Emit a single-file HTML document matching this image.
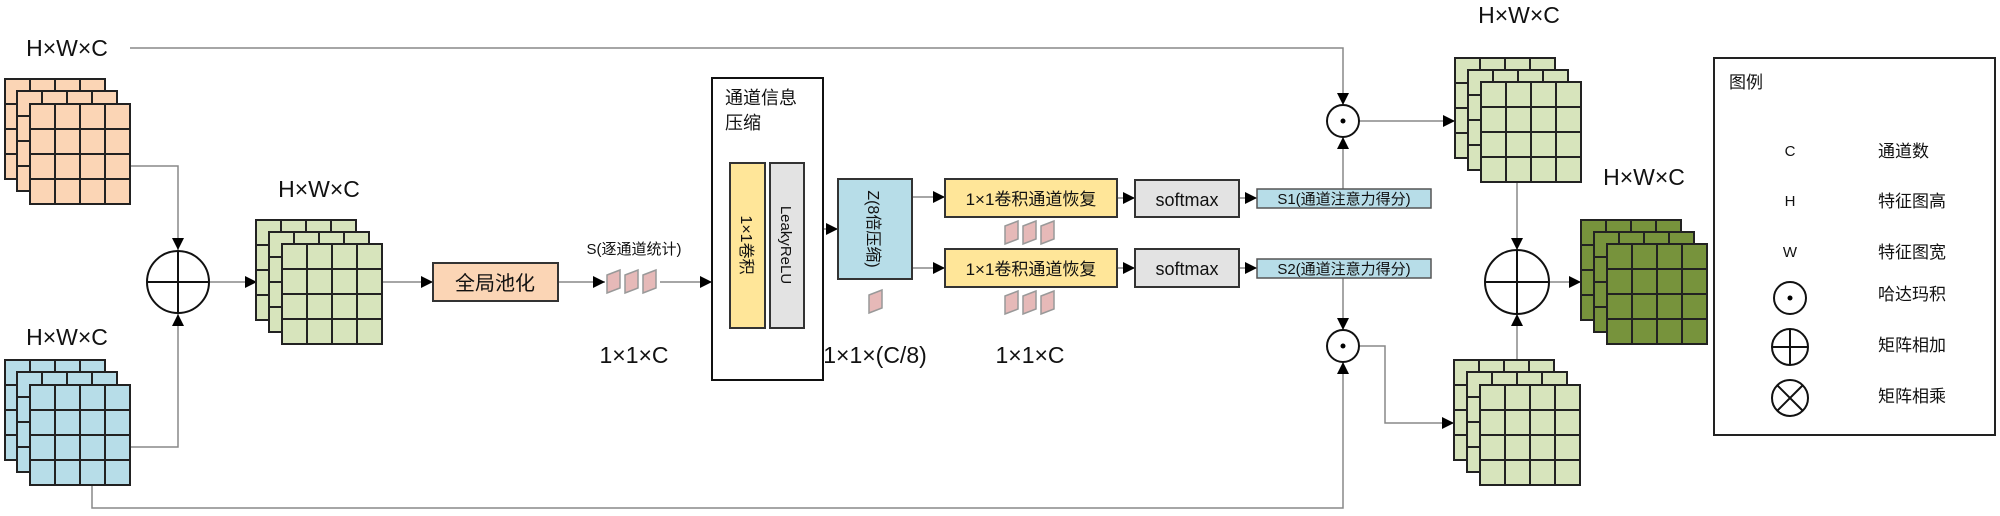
<!DOCTYPE html>
<html><head><meta charset="utf-8"><style>
html,body{margin:0;padding:0;background:#fff;width:2000px;height:516px;overflow:hidden}
text{font-family:"Liberation Sans","Noto Sans CJK SC",sans-serif;fill:#111}
</style></head><body>
<svg width="2000" height="516" viewBox="0 0 2000 516" xmlns="http://www.w3.org/2000/svg">
<defs>
<marker id="a" viewBox="0 0 10 10" refX="10" refY="5" markerWidth="12" markerHeight="12" markerUnits="userSpaceOnUse" orient="auto"><path d="M0 0L10 5L0 10z" fill="#000"/></marker>
<g id="L"><rect width="100" height="100" stroke="#222" stroke-width="2"/><path d="M25 0V100M50 0V100M75 0V100M0 25H100M0 50H100M0 75H100" stroke="#222" stroke-width="2" fill="none"/></g>
<g id="P"><polygon points="1,5 14,0 14,18 1,23" fill="#e6b9b8" stroke="#999" stroke-width="1.5"/></g>
<g id="P3"><use href="#P" x="0"/><use href="#P" x="18"/><use href="#P" x="36"/></g>
</defs>
<g fill="none" stroke="#888" stroke-width="1.5">
<path d="M130 48H1343V105" marker-end="url(#a)"/>
<path d="M130 166H178V250" marker-end="url(#a)"/>
<path d="M130 447H178V314" marker-end="url(#a)"/>
<path d="M92 484V508H1343V362" marker-end="url(#a)"/>
<path d="M209 282H257" marker-end="url(#a)"/>
<path d="M382 282H433" marker-end="url(#a)"/>
<path d="M558 282H605" marker-end="url(#a)"/>
<path d="M660 282H712" marker-end="url(#a)"/>
<path d="M823 229H838" marker-end="url(#a)"/>
<path d="M912 197H945" marker-end="url(#a)"/>
<path d="M912 268H945" marker-end="url(#a)"/>
<path d="M1117 198H1135" marker-end="url(#a)"/>
<path d="M1117 268H1135" marker-end="url(#a)"/>
<path d="M1239 198H1257" marker-end="url(#a)"/>
<path d="M1239 268H1257" marker-end="url(#a)"/>
<path d="M1343 189V137" marker-end="url(#a)"/>
<path d="M1343 278V330" marker-end="url(#a)"/>
<path d="M1359 121H1455" marker-end="url(#a)"/>
<path d="M1359 346H1385V423H1454" marker-end="url(#a)"/>
<path d="M1517 182V250" marker-end="url(#a)"/>
<path d="M1517 360V314" marker-end="url(#a)"/>
<path d="M1549 282H1581" marker-end="url(#a)"/>
</g>
<g fill="#fbd5b5"><use href="#L" x="5" y="79"/><use href="#L" x="17" y="91"/><use href="#L" x="30" y="104"/></g>
<g fill="#b7dde8"><use href="#L" x="5" y="360"/><use href="#L" x="17" y="372"/><use href="#L" x="30" y="385"/></g>
<g fill="#d7e4bc"><use href="#L" x="256" y="220"/><use href="#L" x="269" y="232"/><use href="#L" x="282" y="244"/></g>
<g fill="#d7e4bc"><use href="#L" x="1455" y="58"/><use href="#L" x="1468" y="70"/><use href="#L" x="1481" y="82"/></g>
<g fill="#d7e4bc"><use href="#L" x="1454" y="360"/><use href="#L" x="1467" y="372"/><use href="#L" x="1480" y="385"/></g>
<g fill="#77933c"><use href="#L" x="1581" y="220"/><use href="#L" x="1594" y="232"/><use href="#L" x="1607" y="244"/></g>
<g font-size="23" text-anchor="middle">
<text x="67" y="56">H×W×C</text>
<text x="67" y="345">H×W×C</text>
<text x="319" y="197">H×W×C</text>
<text x="1519" y="23">H×W×C</text>
<text x="1644" y="185">H×W×C</text>
<text x="634" y="363">1×1×C</text>
<text x="875" y="363">1×1×(C/8)</text>
<text x="1030" y="363">1×1×C</text>
</g>
<g fill="#fff" stroke="#111" stroke-width="2">
<circle cx="178" cy="282" r="31"/><path d="M147 282H209M178 251V313"/>
<circle cx="1517" cy="282" r="32"/><path d="M1485 282H1549M1517 250V314"/>
<circle cx="1343" cy="121" r="16"/><circle cx="1343" cy="346" r="16"/>
</g>
<circle cx="1343" cy="121" r="2.5" fill="#000"/><circle cx="1343" cy="346" r="2.5" fill="#000"/>
<rect x="433" y="263" width="125" height="38" fill="#fbd5b5" stroke="#333" stroke-width="2"/>
<text x="495" y="290" font-size="20" text-anchor="middle">全局池化</text>
<use href="#P3" x="606" y="270"/>
<text x="634" y="254" font-size="15" text-anchor="middle">S(逐通道统计)</text>
<rect x="712" y="78" width="111" height="302" fill="#fff" stroke="#111" stroke-width="2"/>
<text x="725" y="104" font-size="18">通道信息</text>
<text x="725" y="129" font-size="18">压缩</text>
<rect x="730" y="163" width="35" height="165" fill="#ffe699" stroke="#333" stroke-width="2"/>
<rect x="770" y="163" width="34" height="165" fill="#e3e3e3" stroke="#333" stroke-width="2"/>
<text transform="translate(741 245) rotate(90)" font-size="16" text-anchor="middle">1×1卷积</text>
<text transform="translate(781 245) rotate(90)" font-size="15" text-anchor="middle">LeakyReLU</text>
<rect x="838" y="179" width="74" height="100" fill="#b7dde8" stroke="#333" stroke-width="2"/>
<text transform="translate(868 229) rotate(90)" font-size="16" text-anchor="middle">Z(8倍压缩)</text>
<use href="#P" x="868" y="290"/>
<rect x="945" y="179" width="172" height="38" fill="#ffe699" stroke="#333" stroke-width="2"/>
<rect x="945" y="249" width="172" height="38" fill="#ffe699" stroke="#333" stroke-width="2"/>
<text x="1031" y="205" font-size="17" text-anchor="middle">1×1卷积通道恢复</text>
<text x="1031" y="275" font-size="17" text-anchor="middle">1×1卷积通道恢复</text>
<use href="#P3" x="1004" y="221"/><use href="#P3" x="1004" y="291"/>
<rect x="1135" y="180" width="104" height="37" fill="#e3e3e3" stroke="#333" stroke-width="2"/>
<rect x="1135" y="249" width="104" height="38" fill="#e3e3e3" stroke="#333" stroke-width="2"/>
<text x="1187" y="206" font-size="18" text-anchor="middle">softmax</text>
<text x="1187" y="275" font-size="18" text-anchor="middle">softmax</text>
<rect x="1257" y="189" width="174" height="19" fill="#b7dde8" stroke="#555" stroke-width="1.5"/>
<rect x="1257" y="259" width="174" height="19" fill="#b7dde8" stroke="#555" stroke-width="1.5"/>
<text x="1344" y="204" font-size="15" text-anchor="middle">S1(通道注意力得分)</text>
<text x="1344" y="274" font-size="15" text-anchor="middle">S2(通道注意力得分)</text>
<rect x="1714" y="58" width="281" height="377" fill="#fff" stroke="#222" stroke-width="2"/>
<text x="1729" y="88" font-size="17">图例</text>
<g font-size="15" text-anchor="middle"><text x="1790" y="156">C</text><text x="1790" y="206">H</text><text x="1790" y="257">W</text></g>
<g font-size="17"><text x="1878" y="157">通道数</text><text x="1878" y="207">特征图高</text><text x="1878" y="258">特征图宽</text><text x="1878" y="300">哈达玛积</text><text x="1878" y="351">矩阵相加</text><text x="1878" y="402">矩阵相乘</text></g>
<g fill="none" stroke="#111" stroke-width="2">
<circle cx="1790" cy="298" r="16"/>
<circle cx="1790" cy="347" r="18"/><path d="M1772 347H1808M1790 329V365"/>
<circle cx="1790" cy="398" r="18"/><path d="M1777 385L1803 411M1803 385L1777 411"/>
</g>
<circle cx="1790" cy="298" r="2.5" fill="#000"/>
</svg>
</body></html>
